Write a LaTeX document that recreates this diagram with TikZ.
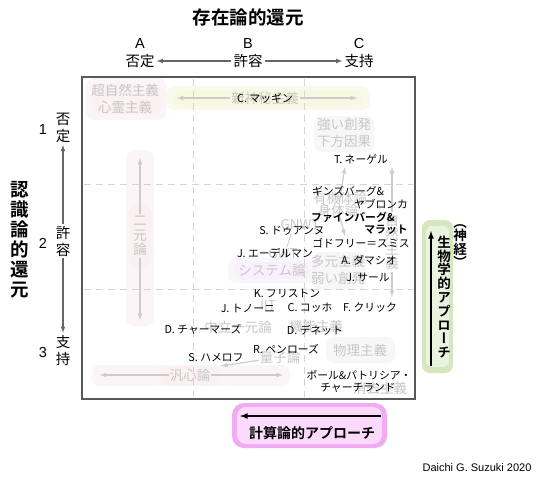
\documentclass[tikz,border=0pt]{standalone}
\usepackage{fontspec}
\setmainfont{Noto Sans CJK JP}[BoldFont={Noto Sans CJK JP Bold}]
\newfontfamily\vfont[RawFeature=+vert]{Noto Sans CJK JP}
\newfontfamily\vbfont[RawFeature=+vert]{Noto Sans CJK JP Bold}
\newfontfamily\latinfont{Liberation Sans}
\usepackage{xcolor}
\usepackage{tikz}
\usetikzlibrary{arrows}
\usetikzlibrary{shapes}
\definecolor{pinkglow}{RGB}{250,234,238}
\definecolor{yellowglow}{RGB}{246,246,214}
\definecolor{lavglow}{RGB}{246,236,250}
\definecolor{grayglow}{RGB}{238,238,238}
\definecolor{greenglow}{RGB}{214,230,190}
\definecolor{greencore}{RGB}{234,242,224}
\definecolor{magglow}{RGB}{242,170,242}
\definecolor{magcore}{RGB}{251,218,251}
\definecolor{boxgray}{RGB}{88,88,88}

\begin{document}
\begin{tikzpicture}[x=1pt,y=-1pt,
    thinker/.style={font=\fontsize{10.8}{12}\selectfont, inner sep=0.5pt},
    boldthinker/.style={font=\bfseries\fontsize{10.8}{12}\selectfont, inner sep=0.5pt},
    fadedlbl/.style={text=black!22, font=\fontsize{13.5}{16.5}\selectfont, align=center, inner sep=1pt},
    fadedvert/.style={text=black!22, font=\vfont\fontsize{13.5}{14.5}\selectfont, align=center, inner sep=2pt},
    fadedarrow/.style={draw=black!20, line width=1.2pt, -latex},
    hdr/.style={font=\fontsize{14.5}{17}\selectfont, inner sep=2pt},
    hdrvert/.style={font=\vfont\fontsize{14.5}{17}\selectfont, align=center, inner sep=2pt},
    hdrarrow/.style={draw=black!60, line width=1.1pt, -latex},
    gridline/.style={draw=black!17, line width=1pt, dash pattern=on 7pt off 5pt},
    glow/.style={fill=#1, fill opacity=0.45, rounded corners=8pt}]
        \useasboundingbox (0, 0) rectangle (540, 480);

        \node [font=\bfseries\fontsize{18.5}{20}\selectfont] (title) at (248, 17) {存在論的還元};
        \node [hdr, font=\latinfont\fontsize{14.5}{17}\selectfont] (lA) at (140, 44) {A};
        \node [hdr, font=\latinfont\fontsize{14.5}{17}\selectfont] (lB) at (248, 44) {B};
        \node [hdr, font=\latinfont\fontsize{14.5}{17}\selectfont] (lC) at (359, 44) {C};
        \node [hdr] (hA) at (140, 61) {否定};
        \node [hdr] (hB) at (248, 61) {許容};
        \node [hdr] (hC) at (359, 61) {支持};
        \draw [hdrarrow] (hB) -- (hA);
        \draw [hdrarrow] (hB) -- (hC);

        \node [font=\vbfont\fontsize{18.5}{20}\selectfont, align=center] (epist) at (20, 240)
            {認\\識\\論\\的\\還\\元};
        \node [hdr, font=\latinfont\fontsize{14.5}{17}\selectfont] (n1) at (43, 130) {1};
        \node [hdr, font=\latinfont\fontsize{14.5}{17}\selectfont] (n2) at (43, 243) {2};
        \node [hdr, font=\latinfont\fontsize{14.5}{17}\selectfont] (n3) at (43, 352) {3};
        \node [hdrvert] (v1) at (63, 128) {否\\定};
        \node [hdrvert] (v2) at (63, 241) {許\\容};
        \node [hdrvert] (v3) at (63, 350) {支\\持};
        \draw [hdrarrow] (v2) -- (v1);
        \draw [hdrarrow] (v2) -- (v3);

        \draw [fill=white, draw=none] (82, 77) rectangle (415, 399);

        \fill [glow=pinkglow] (86, 78) rectangle (166, 120);
        \fill [glow=pinkglow] (92, 84) rectangle (160, 114);
        \fill [glow=yellowglow] (166, 86) rectangle (370, 110);
        \fill [glow=yellowglow] (174, 90) rectangle (362, 106);
        \fill [glow=grayglow] (314, 116) rectangle (374, 152);
        \fill [glow=pinkglow] (126, 150) rectangle (154, 326);
        \fill [glow=pinkglow] (129, 205) rectangle (151, 268);
        \fill [glow=lavglow] (228, 258) rectangle (316, 283);
        \fill [glow=lavglow] (234, 262) rectangle (310, 279);
        \fill [glow=grayglow] (312, 252) rectangle (366, 290);
        \fill [glow=grayglow] (326, 337) rectangle (395, 363);
        \fill [glow=pinkglow] (92, 365) rectangle (290, 386);
        \fill [glow=pinkglow] (160, 366) rectangle (220, 385);

        \draw [gridline] (193, 79) -- (193, 397);
        \draw [gridline] (304, 79) -- (304, 397);
        \draw [gridline] (84, 184) -- (413, 184);
        \draw [gridline] (84, 289) -- (413, 289);

        \node [fadedlbl] (supernat) at (125, 99) {超自然主義\\心霊主義};
        \node [fadedlbl] (mysterian) at (265, 98) {新神秘主義};
        \coordinate (mystL) at (177, 98);
        \coordinate (mystR) at (357, 98);
        \draw [fadedarrow] (mysterian) -- (mystL);
        \draw [fadedarrow] (mysterian) -- (mystR);
        \node [fadedlbl] (strongem) at (344, 133) {強い創発\\下方因果};
        \node [fadedvert] (dualism) at (140, 236) {二\\元\\論};
        \coordinate (dualT) at (140, 158);
        \coordinate (dualB) at (140, 320);
        \draw [fadedarrow] (dualism) -- (dualT);
        \draw [fadedarrow] (dualism) -- (dualB);
        \node [fadedlbl] (organism) at (340, 198) {有機体論};
        \node [fadedlbl] (embodied) at (338, 210) {身体論};
        \coordinate (embT) at (345, 167);
        \coordinate (embB) at (345, 236);
        \draw [fadedarrow] (embodied) -- (embT);
        \draw [fadedarrow] (embodied) -- (embB);
        \node [fadedvert] (naturalism) at (392, 242) {自\\然\\主\\義};
        \coordinate (natT) at (392, 167);
        \coordinate (natB) at (392, 297);
        \draw [fadedarrow] (naturalism) -- (natT);
        \draw [fadedarrow] (naturalism) -- (natB);
        \node [fadedlbl] (pluralism) at (338, 270) {多元主義\\弱い創発};
        \node [fadedlbl] (gnwt) at (300, 225) {GNWT};
        \node [fadedlbl] (slash) at (289, 241) {/};
        \node [fadedlbl] (gwt) at (283, 254) {GWT};
        \node [fadedlbl] (systems) at (272, 270) {システム論};
        \node [fadedlbl] (iit) at (268, 306) {IIT};
        \node [fadedlbl] (neutral) at (238, 327) {中立一元論};
        \node [fadedlbl] (functionalism) at (316, 326) {機能主義};
        \node [fadedlbl] (quantum) at (280, 357) {量子論};
        \coordinate (quantL) at (221, 366);
        \draw [fadedarrow] (quantum) -- (quantL);
        \node [fadedlbl] (physicalism) at (360, 350) {物理主義};
        \node [fadedlbl] (eliminativism) at (380, 388) {消去主義};
        \node [fadedlbl] (panpsych) at (190, 375) {汎心論};
        \coordinate (panL) at (100, 375);
        \coordinate (panR) at (283, 375);
        \draw [fadedarrow] (panpsych) -- (panL);
        \draw [fadedarrow] (panpsych) -- (panR);

        \draw [line width=2.5pt, draw=boxgray] (82, 77) rectangle (415, 399);

        \node [thinker] (mcginn) at (265, 98) {C. マッギン};
        \node [thinker] (nagel) at (361, 159) {T. ネーゲル};
        \node [thinker] (ginsburg) at (348, 191) {ギンズバーグ\&};
        \node [thinker] (jablonka) at (381, 204) {ヤブロンカ};
        \node [boldthinker] (feinberg) at (353, 217) {ファインバーグ\&};
        \node [boldthinker] (mallatt) at (386, 230) {マラット};
        \node [thinker] (dehaene) at (292, 231) {S. ドゥアンヌ};
        \node [thinker] (godfrey) at (361, 243) {ゴドフリー＝スミス};
        \node [thinker] (edelman) at (275, 253) {J. エーデルマン};
        \node [thinker] (damasio) at (369, 260) {A. ダマシオ};
        \node [thinker] (searle) at (368, 278) {J. サール};
        \node [thinker] (friston) at (287, 294) {K. フリストン};
        \node [thinker] (tononi) at (248, 308) {J. トノーニ};
        \node [thinker] (koch) at (310, 308) {C. コッホ};
        \node [thinker] (crick) at (370, 308) {F. クリック};
        \node [thinker] (chalmers) at (203, 329) {D. チャーマーズ};
        \node [thinker] (dennett) at (315, 330) {D. デネット};
        \node [thinker] (penrose) at (286, 349) {R. ペンローズ};
        \node [thinker] (hameroff) at (216, 358) {S. ハメロフ};
        \node [thinker] (churchlandA) at (359, 375) {ポール\&パトリシア・};
        \node [thinker] (churchlandB) at (358, 388) {チャーチランド};

        \fill [glow=greenglow, fill opacity=1] (422, 220) rectangle (453, 373);
        \fill [glow=greencore, fill opacity=1, rounded corners=6pt] (426, 226) rectangle (449, 367);
        \coordinate (bioS) at (431, 366);
        \coordinate (bioE) at (431, 231);
        \draw [line width=1.6pt, -latex] (bioS) -- (bioE);
        \node [font=\vbfont\fontsize{13.5}{13.8}\selectfont, align=center, inner sep=0pt] (bio) at (444, 297)
            {生\\物\\学\\的\\ア\\プ\\ロ\\ー\\チ};
        \node [font=\vbfont\fontsize{13.5}{12}\selectfont, align=center, inner sep=0pt] (neuro) at (460, 246)
            {（\\神\\経\\）};

        \fill [glow=magglow, fill opacity=1, rounded corners=12pt] (232, 403) rectangle (387, 448);
        \fill [glow=magcore, fill opacity=1, rounded corners=9pt] (237, 407) rectangle (382, 444);
        \coordinate (compS) at (381, 416);
        \coordinate (compE) at (240, 416);
        \draw [line width=1.6pt, -latex] (compS) -- (compE);
        \node [font=\bfseries\fontsize{14}{16}\selectfont] (comp) at (312, 433) {計算論的アプローチ};

        \node [font=\latinfont\fontsize{11}{13}\selectfont] (credit) at (477, 468) {Daichi G. Suzuki 2020};
    \end{tikzpicture}
\end{document}
